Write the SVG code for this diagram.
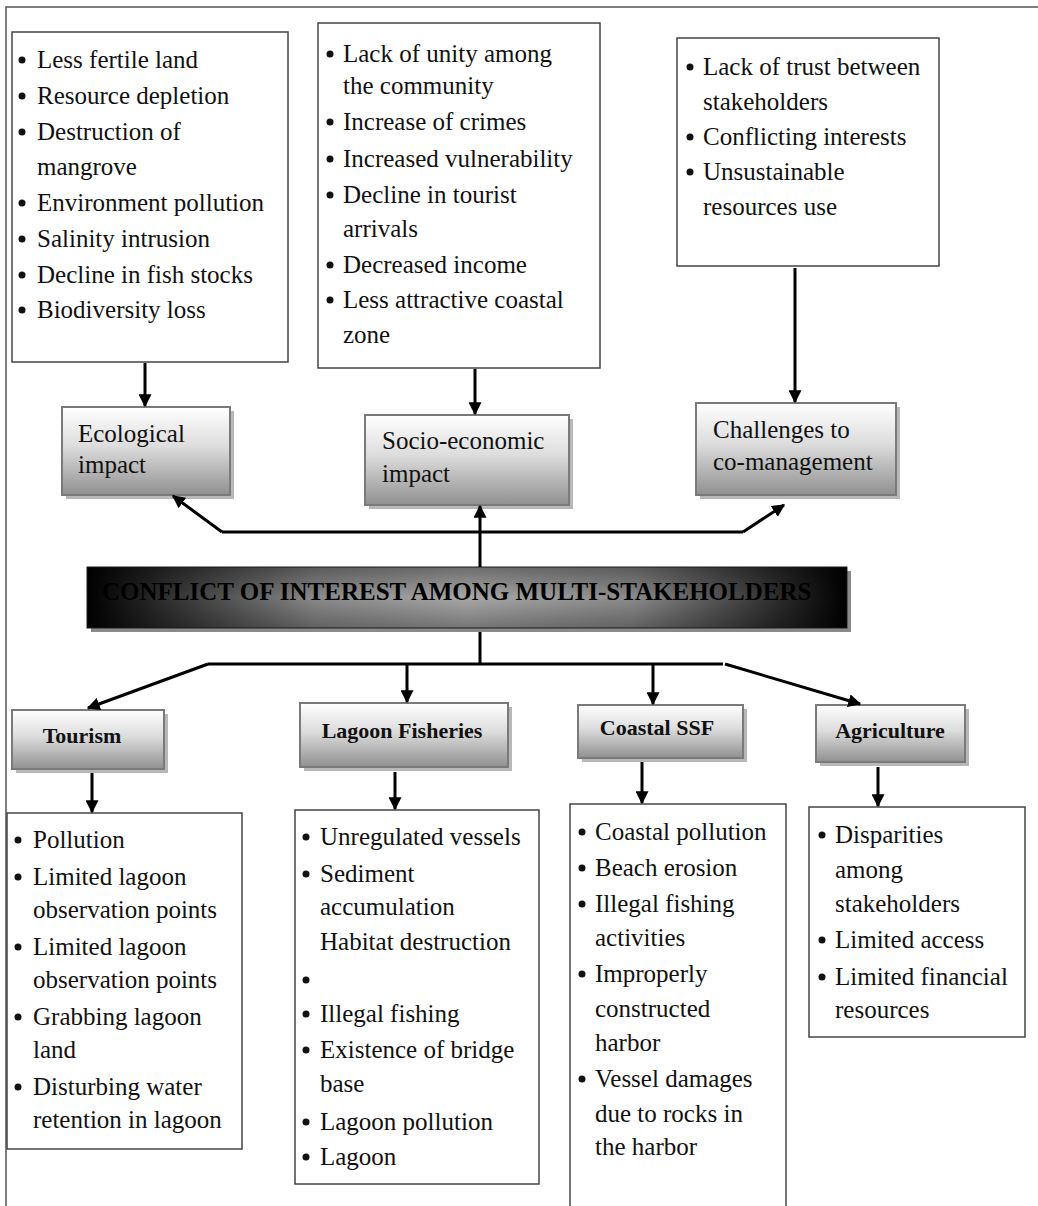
<svg xmlns="http://www.w3.org/2000/svg" width="1038" height="1206" viewBox="0 0 1038 1206">
<style>
.t{font-family:"Liberation Serif","Times New Roman",serif;font-size:25px;fill:#111}
.b{font-family:"Liberation Serif","Times New Roman",serif;font-size:22px;font-weight:bold;fill:#111;text-anchor:middle}
.box{fill:#fff;stroke:#444;stroke-width:1.5}
.gbox{fill:url(#gv);stroke:#7a7a7a;stroke-width:2}
.sh{fill:#b8b8b8}
.c{stroke:#000;stroke-width:3;fill:none}
.a{stroke:#000;stroke-width:3;fill:none;marker-end:url(#ah)}
.dot{fill:#111}
</style>
<defs>
<linearGradient id="gv" x1="0" y1="0" x2="0" y2="1">
<stop offset="0" stop-color="#ffffff"/>
<stop offset="0.45" stop-color="#dcdcdc"/>
<stop offset="1" stop-color="#909090"/>
</linearGradient>
<linearGradient id="gb" x1="0" y1="0" x2="1" y2="0">
<stop offset="0" stop-color="#000"/>
<stop offset="0.3" stop-color="#8a8a8a"/>
<stop offset="0.5" stop-color="#a8a8a8"/>
<stop offset="0.72" stop-color="#8a8a8a"/>
<stop offset="1" stop-color="#000"/>
</linearGradient>
<linearGradient id="gbv" x1="0" y1="0" x2="0" y2="1">
<stop offset="0" stop-color="#000" stop-opacity="0.35"/>
<stop offset="0.5" stop-color="#000" stop-opacity="0"/>
<stop offset="1" stop-color="#000" stop-opacity="0.3"/>
</linearGradient>
<marker id="ah" viewBox="0 0 10 10" refX="9" refY="5" markerWidth="13" markerHeight="13" markerUnits="userSpaceOnUse" orient="auto">
<path d="M0,0 L10,5 L0,10 z" fill="#000"/>
</marker>
</defs>
<rect width="1038" height="1206" fill="#fff"/>
<path d="M6,1206 V7 H1038" fill="none" stroke="#555" stroke-width="1.5"/>

<g id="eco-list">
<rect class="box" x="12" y="32" width="276" height="330"/>
<circle class="dot" cx="22" cy="60" r="3.5"/><text class="t" x="37" y="68">Less fertile land</text>
<circle class="dot" cx="22" cy="96" r="3.5"/><text class="t" x="37" y="104">Resource depletion</text>
<circle class="dot" cx="22" cy="132" r="3.5"/><text class="t" x="37" y="140">Destruction of</text>
<text class="t" x="37" y="175">mangrove</text>
<circle class="dot" cx="22" cy="203" r="3.5"/><text class="t" x="37" y="211">Environment pollution</text>
<circle class="dot" cx="22" cy="239" r="3.5"/><text class="t" x="37" y="247">Salinity intrusion</text>
<circle class="dot" cx="22" cy="275" r="3.5"/><text class="t" x="37" y="283">Decline in fish stocks</text>
<circle class="dot" cx="22" cy="310" r="3.5"/><text class="t" x="37" y="318">Biodiversity loss</text>
</g>

<g id="socio-list">
<rect class="box" x="318" y="23" width="282" height="345"/>
<circle class="dot" cx="330" cy="54" r="3.5"/><text class="t" x="343" y="62">Lack of unity among</text>
<text class="t" x="343" y="94">the community</text>
<circle class="dot" cx="330" cy="122" r="3.5"/><text class="t" x="343" y="130">Increase of crimes</text>
<circle class="dot" cx="330" cy="159" r="3.5"/><text class="t" x="343" y="167">Increased vulnerability</text>
<circle class="dot" cx="330" cy="195" r="3.5"/><text class="t" x="343" y="203">Decline in tourist</text>
<text class="t" x="343" y="237">arrivals</text>
<circle class="dot" cx="330" cy="265" r="3.5"/><text class="t" x="343" y="273">Decreased income</text>
<circle class="dot" cx="330" cy="300" r="3.5"/><text class="t" x="343" y="308">Less attractive coastal</text>
<text class="t" x="343" y="343">zone</text>
</g>

<g id="comgmt-list">
<rect class="box" x="677" y="38" width="262" height="228"/>
<circle class="dot" cx="690" cy="67" r="3.5"/><text class="t" x="703" y="75">Lack of trust between</text>
<text class="t" x="703" y="110">stakeholders</text>
<circle class="dot" cx="690" cy="137" r="3.5"/><text class="t" x="703" y="145">Conflicting interests</text>
<circle class="dot" cx="690" cy="172" r="3.5"/><text class="t" x="703" y="180">Unsustainable</text>
<text class="t" x="703" y="215">resources use</text>
</g>

<g id="ecological">
<rect class="sh" x="66" y="411" width="168" height="88"/>
<rect class="gbox" x="62" y="407" width="168" height="88"/>
<text class="t" x="78" y="442">Ecological</text>
<text class="t" x="78" y="473">impact</text>
</g>

<g id="socio">
<rect class="sh" x="369" y="419" width="204" height="90"/>
<rect class="gbox" x="365" y="415" width="204" height="90"/>
<text class="t" x="382" y="449">Socio-economic</text>
<text class="t" x="382" y="482">impact</text>
</g>

<g id="challenges">
<rect class="sh" x="700" y="407" width="200" height="92"/>
<rect class="gbox" x="696" y="403" width="200" height="92"/>
<text class="t" x="713" y="438">Challenges to</text>
<text class="t" x="713" y="470">co-management</text>
</g>

<g id="conflict">
<rect x="91" y="571" width="760" height="61" fill="#8a8a8a"/>
<rect x="87" y="567" width="760" height="61" fill="url(#gb)" stroke="#222" stroke-width="1"/>
<rect x="87" y="567" width="760" height="61" fill="url(#gbv)"/>
<text x="102" y="600" font-family="Liberation Serif, Times New Roman, serif" font-size="25" font-weight="bold" fill="#000">CONFLICT OF INTEREST AMONG MULTI-STAKEHOLDERS</text>
</g>

<g id="tourism">
<rect class="sh" x="16" y="714" width="152" height="59"/>
<rect class="gbox" x="12" y="710" width="152" height="59"/>
<text class="b" x="82" y="743">Tourism</text>
</g>

<g id="lagoon">
<rect class="sh" x="304" y="707" width="208" height="64"/>
<rect class="gbox" x="300" y="703" width="208" height="64"/>
<text class="b" x="402" y="738">Lagoon Fisheries</text>
</g>

<g id="coastal">
<rect class="sh" x="582" y="709" width="165" height="53"/>
<rect class="gbox" x="578" y="705" width="165" height="53"/>
<text class="b" x="657" y="735">Coastal SSF</text>
</g>

<g id="agriculture">
<rect class="sh" x="820" y="709" width="149" height="57"/>
<rect class="gbox" x="816" y="705" width="149" height="57"/>
<text class="b" x="890" y="738">Agriculture</text>
</g>

<g id="tourism-list">
<rect class="box" x="7" y="813" width="235" height="336"/>
<circle class="dot" cx="18" cy="840" r="3.5"/><text class="t" x="33" y="848">Pollution</text>
<circle class="dot" cx="18" cy="877" r="3.5"/><text class="t" x="33" y="885">Limited lagoon</text>
<text class="t" x="33" y="918">observation points</text>
<circle class="dot" cx="18" cy="947" r="3.5"/><text class="t" x="33" y="955">Limited lagoon</text>
<text class="t" x="33" y="988">observation points</text>
<circle class="dot" cx="18" cy="1017" r="3.5"/><text class="t" x="33" y="1025">Grabbing lagoon</text>
<text class="t" x="33" y="1058">land</text>
<circle class="dot" cx="18" cy="1087" r="3.5"/><text class="t" x="33" y="1095">Disturbing water</text>
<text class="t" x="33" y="1128">retention in lagoon</text>
</g>

<g id="lagoon-list">
<rect class="box" x="295" y="810" width="244" height="374"/>
<circle class="dot" cx="306" cy="837" r="3.5"/><text class="t" x="320" y="845">Unregulated vessels</text>
<circle class="dot" cx="306" cy="874" r="3.5"/><text class="t" x="320" y="882">Sediment</text>
<text class="t" x="320" y="915">accumulation</text>
<text class="t" x="320" y="950">Habitat destruction</text>
<circle class="dot" cx="306" cy="980" r="3.5"/>
<circle class="dot" cx="306" cy="1014" r="3.5"/><text class="t" x="320" y="1022">Illegal fishing</text>
<circle class="dot" cx="306" cy="1050" r="3.5"/><text class="t" x="320" y="1058">Existence of bridge</text>
<text class="t" x="320" y="1092">base</text>
<circle class="dot" cx="306" cy="1122" r="3.5"/><text class="t" x="320" y="1130">Lagoon pollution</text>
<circle class="dot" cx="306" cy="1157" r="3.5"/><text class="t" x="320" y="1165">Lagoon</text>
</g>

<g id="coastal-list">
<path d="M570,1206 V804 H786 V1206" fill="#fff" stroke="#444" stroke-width="1.5"/>
<circle class="dot" cx="582" cy="832" r="3.5"/><text class="t" x="595" y="840">Coastal pollution</text>
<circle class="dot" cx="582" cy="868" r="3.5"/><text class="t" x="595" y="876">Beach erosion</text>
<circle class="dot" cx="582" cy="904" r="3.5"/><text class="t" x="595" y="912">Illegal fishing</text>
<text class="t" x="595" y="946">activities</text>
<circle class="dot" cx="582" cy="974" r="3.5"/><text class="t" x="595" y="982">Improperly</text>
<text class="t" x="595" y="1017">constructed</text>
<text class="t" x="595" y="1051">harbor</text>
<circle class="dot" cx="582" cy="1079" r="3.5"/><text class="t" x="595" y="1087">Vessel damages</text>
<text class="t" x="595" y="1122">due to rocks in</text>
<text class="t" x="595" y="1155">the harbor</text>
</g>

<g id="agri-list">
<rect class="box" x="809" y="807" width="216" height="230"/>
<circle class="dot" cx="822" cy="835" r="3.5"/><text class="t" x="835" y="843">Disparities</text>
<text class="t" x="835" y="878">among</text>
<text class="t" x="835" y="912">stakeholders</text>
<circle class="dot" cx="822" cy="940" r="3.5"/><text class="t" x="835" y="948">Limited access</text>
<circle class="dot" cx="822" cy="977" r="3.5"/><text class="t" x="835" y="985">Limited financial</text>
<text class="t" x="835" y="1018">resources</text>
</g>

<g id="connectors">
<line class="a" x1="145" y1="363" x2="145" y2="406"/>
<line class="a" x1="475" y1="369" x2="475" y2="414"/>
<line class="a" x1="795" y1="268" x2="795" y2="402"/>
<line class="a" x1="480" y1="567" x2="480" y2="506"/>
<line class="c" x1="222" y1="532" x2="743" y2="532"/>
<line class="a" x1="222" y1="532" x2="173" y2="496"/>
<line class="a" x1="743" y1="532" x2="784" y2="505"/>
<line class="c" x1="480" y1="632" x2="480" y2="664"/>
<line class="c" x1="208" y1="664" x2="723" y2="664"/>
<line class="a" x1="208" y1="664" x2="88" y2="708"/>
<line class="a" x1="407" y1="664" x2="407" y2="702"/>
<line class="a" x1="653" y1="664" x2="653" y2="704"/>
<line class="a" x1="725" y1="664" x2="860" y2="704"/>
<line class="a" x1="92" y1="773" x2="92" y2="812"/>
<line class="a" x1="395" y1="772" x2="395" y2="809"/>
<line class="a" x1="642" y1="762" x2="642" y2="803"/>
<line class="a" x1="878" y1="767" x2="878" y2="806"/>
</g>
</svg>
